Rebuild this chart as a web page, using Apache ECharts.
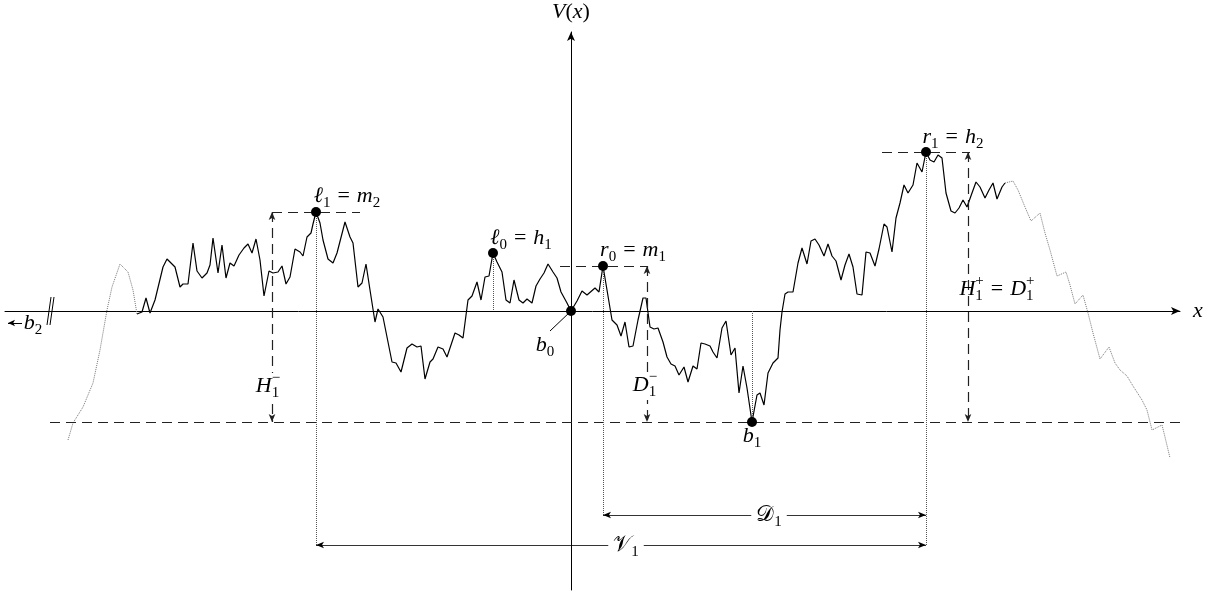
<!DOCTYPE html>
<html>
<head>
<meta charset="utf-8">
<script src="https://cdn.jsdelivr.net/npm/echarts@6/dist/echarts.min.js"></script>
<style>
  html, body { margin: 0; padding: 0; background: #fff; }
  #chart { width: 1222px; height: 595px; }
</style>
</head>
<body>
<div id="chart"></div>
<script>
// Sample path of the potential V(x). The tails drawn dotted continue beyond the observed window.
const leftTail = [
  [-503,-129],[-498,-112],[-488,-96],[-478,-72],[-471,-39],[-464,1],[-459,24],[-451,47],
  [-443,39],[-438,21],[-434,-3]
];
const mainPath = [
  [-434,-3],[-429,-1],[-425,13],[-421,-2],[-416,11],[-408,44],[-404,52],[-396,44],[-391,24],
  [-388,27],[-383,27],[-378,68],[-374,40],[-369,33],[-364,38],[-361,46],[-358,73],[-353,38],
  [-349,66],[-345,33],[-341,48],[-337,45],[-332,56],[-327,63],[-323,67],[-319,58],[-315,72],
  [-311,51],[-307,15],[-302,40],[-298,38],[-293,39],[-289,45],[-285,27],[-281,34],[-276,62],
  [-271,59],[-268,55],[-264,74],[-260,78],[-258,87],[-255,99],[-251,88],[-248,71],[-243,52],
  [-238,48],[-234,58],[-226,89],[-221,74],[-218,68],[-213,24],[-209,28],[-205,47],[-201,21],
  [-196,-11],[-193,2],[-188,-6],[-179,-51],[-175,-52],[-170,-61],[-164,-37],[-159,-33],
  [-154,-36],[-150,-35],[-146,-68],[-141,-51],[-138,-48],[-133,-36],[-128,-38],[-124,-46],
  [-116,-22],[-112,-24],[-108,-27],[-103,11],[-99,15],[-94,29],[-90,11],[-86,34],[-82,35],
  [-78,58],[-74,49],[-69,39],[-65,11],[-61,8],[-57,31],[-52,11],[-48,8],[-44,12],[-39,8],
  [-35,25],[-31,32],[-27,38],[-23,47],[-18,39],[-14,33],[-10,19],[-4,8],[0,0],[6,10],[11,20],
  [16,16],[24,23],[28,19],[32,45],[36,21],[41,-9],[46,-14],[50,-25],[54,-11],[58,-36],[62,-35],
  [67,-9],[72,13],[75,13],[79,-16],[83,-18],[87,-17],[92,-31],[96,-46],[100,-53],[104,-55],
  [108,-64],[113,-56],[117,-71],[122,-55],[126,-58],[130,-32],[134,-33],[139,-35],[142,-41],
  [146,-47],[151,-17],[155,-10],[160,-44],[164,-37],[168,-82],[172,-55],[176,-77],[181,-111],
  [186,-84],[189,-82],[193,-94],[197,-62],[202,-52],[207,-47],[209,-19],[211,-1],[214,17],
  [217,19],[222,19],[227,48],[231,63],[236,47],[240,70],[244,72],[248,66],[253,55],[257,67],
  [261,55],[265,50],[270,31],[274,46],[278,57],[282,44],[286,17],[291,16],[295,59],[299,58],
  [304,45],[308,62],[313,87],[316,84],[321,59],[325,93],[329,108],[333,126],[337,118],
  [342,126],[346,148],[351,139],[355,159],[359,151],[363,149],[367,156],[371,153],[375,118],
  [380,100],[384,98],[388,103],[392,111],[396,104],[401,118],[405,129],[409,124],[414,113],
  [418,121],[422,128],[426,112],[431,124],[434,128]
];
const rightTail = [
  [434,128],[442,130],[447,121],[454,104],[460,90],[469,98],[474,78],[479,61],[486,35],
  [495,39],[499,26],[504,7],[512,16],[517,-2],[522,-22],[529,-48],[538,-36],[544,-52],
  [549,-59],[556,-65],[562,-75],[571,-89],[576,-99],[581,-119],[591,-114],[594,-126],[599,-147]
];

// Marked extrema of the path
const l1 = [-255, 99];   // ℓ1 = m2
const l0 = [-78, 58];    // ℓ0 = h1
const b0 = [0, 0];
const r0 = [32, 45];     // r0 = m1
const b1 = [181, -111];
const r1 = [355, 159];   // r1 = h2
const keyPoints = [l1, l0, b0, r0, b1, r1];

// Guide geometry (arrow columns, arrow rows, extents of the dashed levels)
const guide = {
  hMinusX: -299, dMinusX: 76, hPlusX: 397,
  dArrowY: -204, vArrowY: -234,
  floorFrom: -521, floorTo: 609,
  l1LevelTo: -211, r0LevelFrom: -11, r1LevelFrom: 311, r1LevelTo: 399
};

// Text labels: anchor (centre) and tokens [text, style, subscript, superscript]
const labels = [
  { at: [0, 299],     tok: [['V','i'],['(','r'],['x','i'],[')','r']] },
  { at: [627, 0],     tok: [['x','i']] },
  { at: [-224, 115],  tok: [['ℓ','i','1'],['=','op'],['m','i','2']] },
  { at: [-50, 73],    tok: [['ℓ','i','0'],['=','op'],['h','i','1']] },
  { at: [62, 61],     tok: [['r','i','0'],['=','op'],['m','i','1']] },
  { at: [382, 174],   tok: [['r','i','1'],['=','op'],['h','i','2']] },
  { at: [-26, -34],   tok: [['b','i','0']] },
  { at: [181, -125],  tok: [['b','i','1']] },
  { at: [-303, -75],  tok: [['H','i','1','−']], bg: true },
  { at: [74, -74],    tok: [['D','i','1','−']], bg: true },
  { at: [426, 22],    tok: [['H','i','1','+'],['=','op'],['D','i','1','+']] },
  { at: [198, -204],  tok: [['𝒟','r','1']], bg: true },
  { at: [55, -234],   tok: [['𝒱','r','1']], bg: true },
  { at: [-538, -12],  tok: [['b','i','2']] }
];

const FAM = 'Liberation Serif';
const MAIN = 22, SMALL = 15, OP_GAP = 7;
const measureCtx = document.createElement('canvas').getContext('2d');
function cssFont(style, size) { return (style === 'i' ? 'italic ' : 'normal ') + size + 'px "' + FAM + '", serif'; }
function textWidth(t, style, size) { measureCtx.font = cssFont(style, size); return measureCtx.measureText(t).width; }

function renderLabel(params, api) {
  const spec = labels[params.dataIndex];
  const c = api.coord([api.value(0), api.value(1)]);
  const pieces = [];
  let x = 0;
  spec.tok.forEach(([t, st, sub, sup]) => {
    const gap = st === 'op' ? OP_GAP : 0;
    x += gap;
    pieces.push({ text: t, st: st, size: MAIN, x: x, dy: 0 });
    x += textWidth(t, st, MAIN) + gap;
    let w = 0;
    if (sub) { pieces.push({ text: sub, st: 'r', size: SMALL, x: x, dy: 7 }); w = Math.max(w, textWidth(sub, 'r', SMALL)); }
    if (sup) { pieces.push({ text: sup, st: 'r', size: SMALL, x: x, dy: -8 }); w = Math.max(w, textWidth(sup, 'r', SMALL)); }
    x += w;
  });
  const x0 = c[0] - x / 2;
  const children = [];
  if (spec.bg) {
    children.push({ type: 'rect', shape: { x: x0 - 5, y: c[1] - 13, width: x + 10, height: 28 },
      style: { fill: '#fff' } });
  }
  pieces.forEach(p => children.push({
    type: 'text', x: x0 + p.x, y: c[1] + p.dy,
    style: {
      text: p.text, fill: '#000',
      fontFamily: FAM, fontSize: p.size, fontStyle: p.st === 'i' ? 'italic' : 'normal',
      align: 'left', verticalAlign: 'middle'
    }
  }));
  return { type: 'group', children };
}

const seg = (a, b) => [{ coord: a }, { coord: b }];

const chart = echarts.init(document.getElementById('chart'), null, { renderer: 'canvas' });
chart.setOption({
  animation: false,
  backgroundColor: '#fff',
  grid: { left: 5, right: 42, top: 32, bottom: 5 },
  xAxis: {
    type: 'value', min: -566, max: 609,
    axisLine: { show: true, onZero: true, symbol: ['none', 'arrow'], symbolSize: [6, 9],
      lineStyle: { color: '#000', width: 1 } },
    axisTick: { show: false }, axisLabel: { show: false }, splitLine: { show: false }
  },
  yAxis: {
    type: 'value', min: -279, max: 279,
    axisLine: { show: true, onZero: true, symbol: ['none', 'arrow'], symbolSize: [6, 9],
      lineStyle: { color: '#000', width: 1 } },
    axisTick: { show: false }, axisLabel: { show: false }, splitLine: { show: false }
  },
  series: [
    { type: 'line', data: leftTail, showSymbol: false, silent: true,
      lineStyle: { color: '#777', width: 1, type: [1, 1] } },
    { type: 'line', data: rightTail, showSymbol: false, silent: true,
      lineStyle: { color: '#777', width: 1, type: [1, 1] } },
    { type: 'line', data: mainPath, showSymbol: false, silent: true,
      lineStyle: { color: '#000', width: 1.2 } },
    // dashed levels
    { type: 'line', data: [], silent: true,
      markLine: { silent: true, symbol: ['none', 'none'], label: { show: false },
        lineStyle: { color: '#222', width: 1.2, type: [10, 6] },
        data: [
          seg([guide.floorFrom, b1[1]], [guide.floorTo, b1[1]]),
          seg([guide.hMinusX, l1[1]], [guide.l1LevelTo, l1[1]]),
          seg([guide.r0LevelFrom, r0[1]], [guide.dMinusX, r0[1]]),
          seg([guide.r1LevelFrom, r1[1]], [guide.r1LevelTo, r1[1]])
        ] } },
    // dashed vertical double arrows
    { type: 'line', data: [], silent: true,
      markLine: { silent: true, symbol: ['arrow', 'arrow'], symbolSize: [5, 8], label: { show: false },
        lineStyle: { color: '#222', width: 1.2, type: [10, 6] },
        data: [
          seg([guide.hMinusX, l1[1]], [guide.hMinusX, b1[1]]),
          seg([guide.dMinusX, r0[1]], [guide.dMinusX, b1[1]]),
          seg([guide.hPlusX, r1[1]], [guide.hPlusX, b1[1]])
        ] } },
    // dotted drop lines
    { type: 'line', data: [], silent: true,
      markLine: { silent: true, symbol: ['none', 'none'], label: { show: false },
        lineStyle: { color: '#555', width: 1, type: [1, 1] },
        data: [
          seg(l1, [l1[0], guide.vArrowY]),
          seg(l0, [l0[0], 0]),
          seg(r0, [r0[0], guide.dArrowY]),
          seg(b1, [b1[0], 0]),
          seg(r1, [r1[0], guide.vArrowY])
        ] } },
    // horizontal spans 𝒟1 and 𝒱1
    { type: 'line', data: [], silent: true,
      markLine: { silent: true, symbol: ['arrow', 'arrow'], symbolSize: [5, 8], label: { show: false },
        lineStyle: { color: '#000', width: 0.8, type: 'solid' },
        data: [
          seg([r0[0], guide.dArrowY], [r1[0], guide.dArrowY]),
          seg([l1[0], guide.vArrowY], [r1[0], guide.vArrowY])
        ] } },
    // b0 leader, axis break mark
    { type: 'line', data: [], silent: true,
      markLine: { silent: true, symbol: ['none', 'none'], label: { show: false },
        lineStyle: { color: '#000', width: 1, type: 'solid' },
        data: [
          seg(b0, [-21, -20]),
          seg([-524, -14], [-520, 14]),
          seg([-521, -14], [-517, 14])
        ] } },
    // arrow towards b2
    { type: 'line', data: [], silent: true,
      markLine: { silent: true, symbol: ['none', 'arrow'], symbolSize: [5, 7], label: { show: false },
        lineStyle: { color: '#000', width: 1, type: 'solid' },
        data: [ seg([-549, -12], [-563, -12]) ] } },
    { type: 'scatter', data: keyPoints, symbol: 'circle', symbolSize: 10, silent: true,
      itemStyle: { color: '#000', opacity: 1 }, z: 5 },
    { type: 'custom', data: labels.map((l, i) => [l.at[0], l.at[1], i]),
      encode: { x: 0, y: 1 }, renderItem: renderLabel, silent: true, clip: false, z: 10 }
  ]
});
</script>
</body>
</html>
